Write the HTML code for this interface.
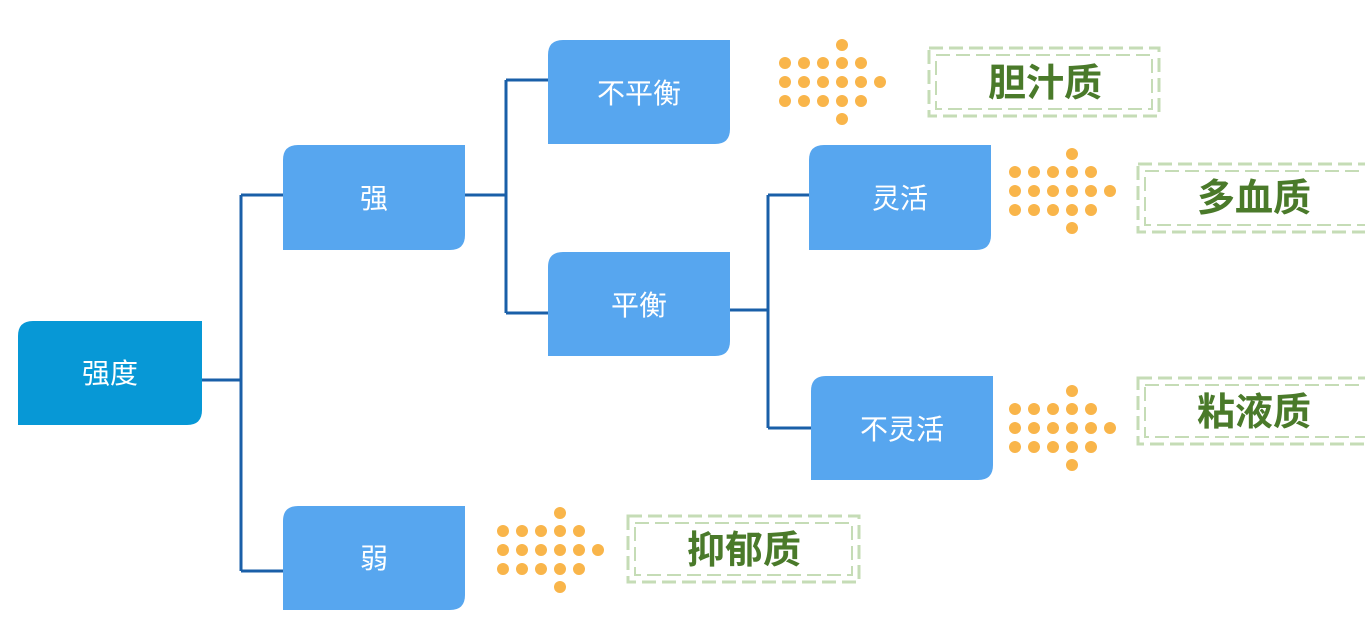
<!DOCTYPE html>
<html><head><meta charset="utf-8"><style>
html,body{margin:0;padding:0;background:#fff;width:1365px;height:623px;overflow:hidden}
</style></head><body>
<svg width="1365" height="623" xmlns="http://www.w3.org/2000/svg">
<defs>
<g id="arr" fill="#f9b54a">
<circle cx="57" cy="-37" r="6"/>
<circle cx="0" cy="-19" r="6"/><circle cx="19" cy="-19" r="6"/><circle cx="38" cy="-19" r="6"/><circle cx="57" cy="-19" r="6"/><circle cx="76" cy="-19" r="6"/>
<circle cx="0" cy="0" r="6"/><circle cx="19" cy="0" r="6"/><circle cx="38" cy="0" r="6"/><circle cx="57" cy="0" r="6"/><circle cx="76" cy="0" r="6"/><circle cx="95" cy="0" r="6"/>
<circle cx="0" cy="19" r="6"/><circle cx="19" cy="19" r="6"/><circle cx="38" cy="19" r="6"/><circle cx="57" cy="19" r="6"/><circle cx="76" cy="19" r="6"/>
<circle cx="57" cy="37" r="6"/>
</g>
</defs>
<g stroke="#1a5fa8" stroke-width="3" fill="none">
<path d="M202 380H241M241 195V571M241 195H283M241 571H283"/>
<path d="M465 195H506M506 80V313M506 80H548M506 313H548"/>
<path d="M730 310H768M768 195V428M768 195H809M768 428H811"/>
</g>
<g>
<path d="M33 321H202V410Q202 425 187 425H18V336Q18 321 33 321Z" fill="#0798d6"/>
<path d="M298 145H465V235Q465 250 450 250H283V160Q283 145 298 145Z" fill="#57a6ef"/>
<path d="M298 506H465V595Q465 610 450 610H283V521Q283 506 298 506Z" fill="#57a6ef"/>
<path d="M563 40H730V129Q730 144 715 144H548V55Q548 40 563 40Z" fill="#57a6ef"/>
<path d="M563 252H730V341Q730 356 715 356H548V267Q548 252 563 252Z" fill="#57a6ef"/>
<path d="M824 145H991V235Q991 250 976 250H809V160Q809 145 824 145Z" fill="#57a6ef"/>
<path d="M826 376H993V465Q993 480 978 480H811V391Q811 376 826 376Z" fill="#57a6ef"/>
</g>
<g fill="#fff" font-family="'Liberation Sans','Noto Sans CJK SC',sans-serif" font-size="28" text-anchor="middle">
<text x="110" y="383">强度</text>
<text x="374" y="208">强</text>
<text x="374" y="568">弱</text>
<text x="639" y="103">不平衡</text>
<text x="639" y="315">平衡</text>
<text x="900" y="208">灵活</text>
<text x="902" y="439">不灵活</text>
</g>
<use href="#arr" x="785" y="82"/>
<use href="#arr" x="1015" y="191"/>
<use href="#arr" x="1015" y="428"/>
<use href="#arr" x="503" y="550"/>
<g fill="none" stroke="#c5dcb6">
<rect x="929" y="48" width="230" height="68" stroke-width="3" stroke-dasharray="14 6"/>
<rect x="936" y="55" width="216" height="54" stroke-width="2" stroke-dasharray="14 6"/>
<rect x="1138" y="164" width="240" height="68" stroke-width="3" stroke-dasharray="14 6"/>
<rect x="1145" y="171" width="226" height="54" stroke-width="2" stroke-dasharray="14 6"/>
<rect x="1138" y="378" width="240" height="66" stroke-width="3" stroke-dasharray="14 6"/>
<rect x="1145" y="385" width="226" height="52" stroke-width="2" stroke-dasharray="14 6"/>
<rect x="628" y="516" width="231" height="66" stroke-width="3" stroke-dasharray="14 6"/>
<rect x="635" y="523" width="217" height="52" stroke-width="2" stroke-dasharray="14 6"/>
</g>
<g fill="#4a7a2a" font-family="'Liberation Sans','Noto Sans CJK SC',sans-serif" font-weight="bold" font-size="38" text-anchor="middle">
<text x="1045" y="96">胆汁质</text>
<text x="1254" y="211">多血质</text>
<text x="1254" y="425">粘液质</text>
<text x="744" y="563">抑郁质</text>
</g>
</svg>
</body></html>
